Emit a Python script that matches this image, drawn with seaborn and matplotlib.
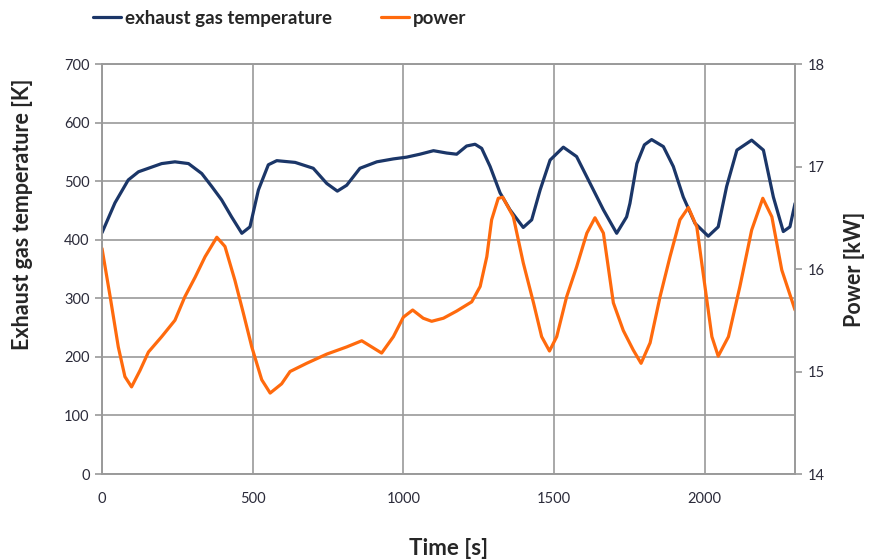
import pandas as pd
import seaborn as sns
import matplotlib.pyplot as plt

# exhaust gas temperature [K] vs time [s]
temp_time = [0, 43, 87, 121, 154, 198, 242, 287, 331, 364,
             397, 430, 464, 491, 519, 552, 580, 641, 701, 746,
             781, 812, 856, 912, 967, 1011, 1055, 1100, 1144, 1177,
             1210, 1238, 1260, 1288, 1321, 1354, 1398, 1426, 1454, 1487,
             1531, 1575, 1620, 1664, 1708, 1741, 1752, 1775, 1800, 1824,
             1863, 1896, 1929, 1968, 2012, 2045, 2073, 2107, 2156, 2195,
             2228, 2261, 2283, 2300]
temp_vals = [412, 463, 502, 516, 522, 530, 533, 530, 513, 491,
             468, 439, 411, 422, 485, 528, 535, 532, 522, 496,
             483, 493, 522, 533, 538, 541, 546, 552, 548, 546,
             560, 563, 556, 525, 480, 451, 421, 434, 485, 536,
             558, 542, 496, 451, 411, 439, 462, 530, 562, 571,
             559, 525, 473, 428, 406, 422, 491, 553, 570, 553,
             473, 414, 422, 462]

# power [kW] vs time [s]
power_time = [0, 27, 54, 76, 98, 126, 154, 198, 242, 275,
              309, 342, 381, 408, 441, 469, 497, 530, 558, 596,
              624, 679, 746, 812, 862, 895, 928, 967, 1000, 1031,
              1066, 1094, 1133, 1177, 1227, 1255, 1277, 1293, 1315, 1330,
              1365, 1398, 1432, 1459, 1485, 1509, 1542, 1575, 1609, 1636,
              1664, 1697, 1730, 1763, 1789, 1819, 1852, 1885, 1918, 1946,
              1974, 2001, 2024, 2045, 2079, 2117, 2156, 2193, 2223, 2256,
              2300]
power_vals = [16.20, 15.73, 15.24, 14.95, 14.85, 15.01, 15.19, 15.34, 15.50, 15.73,
              15.92, 16.12, 16.31, 16.22, 15.89, 15.57, 15.24, 14.92, 14.79, 14.88,
              15.00, 15.08, 15.17, 15.24, 15.30, 15.24, 15.18, 15.34, 15.53, 15.60,
              15.52, 15.49, 15.52, 15.59, 15.68, 15.83, 16.12, 16.48, 16.69, 16.70,
              16.51, 16.06, 15.67, 15.34, 15.20, 15.34, 15.73, 16.02, 16.35, 16.50,
              16.35, 15.67, 15.40, 15.21, 15.08, 15.28, 15.73, 16.12, 16.48, 16.60,
              16.41, 15.83, 15.34, 15.15, 15.34, 15.83, 16.38, 16.69, 16.51, 15.99,
              15.60]

df_temp = pd.DataFrame({"time": temp_time, "temp": temp_vals})
df_power = pd.DataFrame({"time": power_time, "power": power_vals})

sns.set_style("white")
plt.rcParams["font.family"] = ["Lato", "DejaVu Sans"]

blue = "#1B3668"
orange = "#FF6A0D"
grid_c = "#9A9A9A"

fig = plt.figure(figsize=(8.69, 5.59), dpi=100)
ax = fig.add_axes([0.1174, 0.152, 0.7975, 0.7335])
ax2 = ax.twinx()

sns.lineplot(data=df_temp, x="time", y="temp", ax=ax, color=blue, lw=2.3,
             label="exhaust gas temperature", legend=False)
sns.lineplot(data=df_power, x="time", y="power", ax=ax2, color=orange, lw=2.3,
             label="power", legend=False)

ax.set_xlim(0, 2300)
ax.set_ylim(0, 700)
ax2.set_ylim(14, 18)
ax.set_xticks([0, 500, 1000, 1500, 2000])
ax.set_yticks(range(0, 701, 100))
ax2.set_yticks([14, 15, 16, 17, 18])

ax.grid(True, color=grid_c, lw=1.2)
ax.set_axisbelow(True)
for a in (ax, ax2):
    for s in a.spines.values():
        s.set_color(grid_c)
        s.set_linewidth(1.2)
    a.tick_params(colors=grid_c, length=5, width=1.2, labelsize=10.5,
                  labelcolor="#2b2b3a")
ax.tick_params(axis="x", pad=8)
ax.tick_params(axis="y", pad=4)
ax2.tick_params(axis="y", pad=4)

ax.set_xlabel("Time [s]", fontsize=16, fontweight="bold")
ax.xaxis.set_label_coords(0.5, -0.155)
ax.set_ylabel("Exhaust gas temperature [K]", fontsize=15.5, fontweight="bold")
ax.yaxis.set_label_coords(-0.1, 0.634)
ax2.set_ylabel("Power [kW]", fontsize=15.5, fontweight="bold", labelpad=14)

h1, l1 = ax.get_legend_handles_labels()
h2, l2 = ax2.get_legend_handles_labels()
fig.legend(h1 + h2, l1 + l2, loc="center left", bbox_to_anchor=(0.088, 0.967),
           ncol=2, frameon=False, handlelength=1.5, handletextpad=0.2,
           columnspacing=2.6, prop={"weight": "bold", "size": 13.5})

fig.savefig("out.png", dpi=100)
